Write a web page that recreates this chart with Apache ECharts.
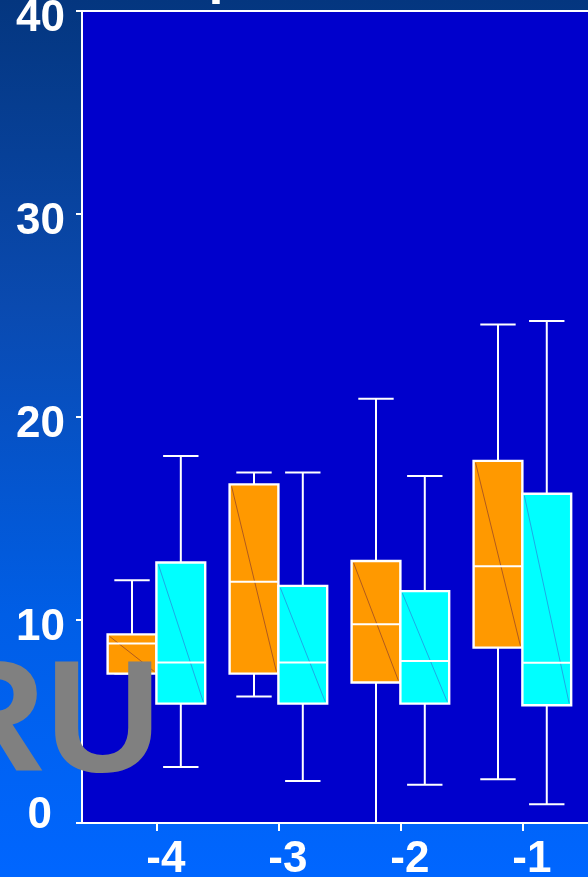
<!DOCTYPE html>
<html>
<head>
<meta charset="utf-8">
<script src="https://cdn.jsdelivr.net/npm/echarts@6/dist/echarts.min.js"></script>
<style>
  html, body { margin: 0; padding: 0; }
  #chart {
    width: 588px; height: 877px;
    background: linear-gradient(to bottom, #04367f 0%, #0a4ab0 35%, #005ee6 70%, #0066ff 100%);
  }
</style>
</head>
<body>
<div id="chart"></div>
<script>
// ---- data ----
const categories = [-4, -3, -2, -1];
// each entry: [min, Q1, median, Q3, max]
const orangeBoxes = [
  [7.36, 7.36, 8.84, 9.29, 11.96],
  [6.23, 7.36, 11.88, 16.68, 17.27],
  [0, 6.92, 9.79, 12.91, 20.9],
  [2.15, 8.64, 12.65, 17.84, 24.56]
];
const cyanBoxes = [
  [2.76, 5.88, 7.91, 12.83, 18.08],
  [2.07, 5.88, 7.91, 11.68, 17.27],
  [1.89, 5.88, 7.98, 11.42, 17.09],
  [0.92, 5.8, 7.89, 16.22, 24.73]
];
const yMin = 0, yMax = 40, yStep = 10;
const watermark = 'RU';
const titleFragment = 'p';

// ---- styling ----
const BOX_W = 0.4;   // box width in axis units
const CAP_W = 0.29;  // whisker cap width in axis units
const FONT = '"Liberation Sans", Arial, sans-serif';

function makeRender(side, fill, diagColor) {
  return function (params, api) {
    const x = api.value(0);
    const lo = api.value(1), q1 = api.value(2), med = api.value(3), q3 = api.value(4), hi = api.value(5);
    const x0 = side < 0 ? x - BOX_W : x;
    const x1 = x0 + BOX_W;
    const xc = x0 + BOX_W / 2;
    const tl = api.coord([x0, q3]);
    const br = api.coord([x1, q1]);
    const pHi = api.coord([xc, hi]);
    const pLo = api.coord([xc, lo]);
    const pMed0 = api.coord([x0, med]);
    const pMed1 = api.coord([x1, med]);
    const half = api.size([CAP_W, 0])[0] / 2;
    const line = (a, b, c, d) => ({
      type: 'line',
      shape: { x1: a, y1: b, x2: c, y2: d },
      style: { stroke: '#ffffff', lineWidth: 2 }
    });
    return {
      type: 'group',
      children: [
        line(pHi[0], tl[1], pHi[0], pHi[1]),
        line(pLo[0], br[1], pLo[0], pLo[1]),
        line(pHi[0] - half, pHi[1], pHi[0] + half, pHi[1]),
        line(pLo[0] - half, pLo[1], pLo[0] + half, pLo[1]),
        {
          type: 'rect',
          shape: { x: tl[0], y: tl[1], width: br[0] - tl[0], height: br[1] - tl[1] },
          style: { fill: fill, stroke: '#ffffff', lineWidth: 2.4 }
        },
        {
          type: 'line',
          shape: { x1: tl[0] + 2, y1: tl[1] + 2, x2: br[0] - 2, y2: br[1] - 2 },
          style: { stroke: diagColor, lineWidth: 1 }
        },
        line(pMed0[0], pMed0[1], pMed1[0], pMed1[1])
      ]
    };
  };
}

const chart = echarts.init(document.getElementById('chart'), null, { renderer: 'canvas' });
chart.setOption({
  backgroundColor: 'transparent',
  animation: false,
  grid: {
    left: 82, top: 11, bottom: 54, right: 0,
    outerBoundsMode: 'none',
    containLabel: false,
    show: true, backgroundColor: '#0000cc', borderWidth: 0
  },
  xAxis: [
    {
      type: 'value',
      min: -4.61, max: -0.462,
      splitLine: { show: false },
      axisLine: { lineStyle: { color: '#ffffff', width: 2 } },
      axisTick: { show: true, customValues: categories, length: 8, lineStyle: { color: '#ffffff', width: 2 } },
      axisLabel: {
        customValues: categories,
        margin: 15,
        formatter: v => '{x|' + v + '}',
        rich: {
          x: { color: '#ffffff', fontSize: 44, fontWeight: 'bold', fontFamily: FONT, padding: [0, 0, 0, 19] }
        }
      }
    },
    {
      type: 'value', position: 'top',
      min: -4.61, max: -0.462,
      splitLine: { show: false },
      axisLine: { show: true, lineStyle: { color: '#ffffff', width: 2 } },
      axisTick: { show: false },
      axisLabel: { show: false }
    }
  ],
  yAxis: {
    type: 'value',
    min: yMin, max: yMax, interval: yStep,
    splitLine: { show: false },
    axisLine: { show: true, lineStyle: { color: '#ffffff', width: 2 } },
    axisTick: { show: true, length: 6, lineStyle: { color: '#ffffff', width: 2 } },
    axisLabel: {
      margin: 17,
      formatter: v => (v === 0 ? '{z|' + v + '}' : '{n|' + v + '}'),
      rich: {
        n: { color: '#ffffff', fontSize: 44, fontWeight: 'bold', fontFamily: FONT, padding: [15, 0, 0, 0] },
        z: { color: '#ffffff', fontSize: 44, fontWeight: 'bold', fontFamily: FONT, padding: [0, 13, 15, 0] }
      }
    }
  },
  series: [
    {
      name: 'orange', type: 'custom',
      renderItem: makeRender(-1, '#ff9900', 'rgba(150,70,40,0.75)'),
      encode: { x: 0, y: [1, 2, 3, 4, 5] },
      data: orangeBoxes.map((b, i) => [categories[i]].concat(b)),
      z: 3
    },
    {
      name: 'cyan', type: 'custom',
      renderItem: makeRender(1, '#00ffff', 'rgba(40,140,220,0.75)'),
      encode: { x: 0, y: [1, 2, 3, 4, 5] },
      data: cyanBoxes.map((b, i) => [categories[i]].concat(b)),
      z: 4
    }
  ],
  graphic: [
    {
      type: 'text', z: 100, x: -70, y: 726.6,
      style: { text: watermark, font: 'bold 160px ' + FONT, fill: '#808080', align: 'left', verticalAlign: 'middle' }
    },
    {
      type: 'text', z: 100, x: 208.5, y: -22,
      style: { text: titleFragment, font: 'bold 54px ' + FONT, fill: '#ffffff', align: 'left', verticalAlign: 'middle' }
    }
  ]
});
</script>
</body>
</html>
